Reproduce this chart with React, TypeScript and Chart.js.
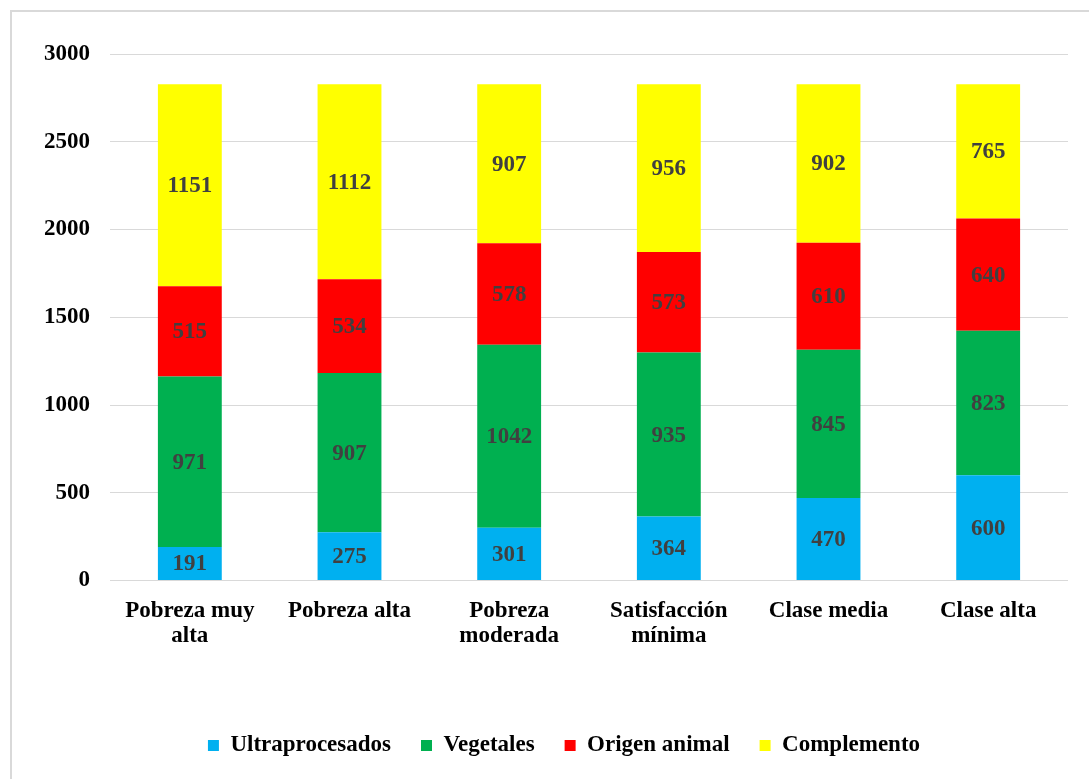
import React, { useEffect, useRef } from "react";
import { Chart, registerables } from "chart.js";

Chart.register(...registerables);

const categories: string[][] = [
  ["Pobreza muy", "alta"],
  ["Pobreza alta"],
  ["Pobreza", "moderada"],
  ["Satisfacción", "mínima"],
  ["Clase media"],
  ["Clase alta"],
];

const ultraprocesados = [191, 275, 301, 364, 470, 600];
const vegetales = [971, 907, 1042, 935, 845, 823];
const origenAnimal = [515, 534, 578, 573, 610, 640];
const complemento = [1151, 1112, 907, 956, 902, 765];

const seriesNames = ["Ultraprocesados", "Vegetales", "Origen animal", "Complemento"];
const seriesColors = ["#00B0F0", "#00B050", "#FF0000", "#FFFF00"];

const FONT = "'Liberation Serif', 'Times New Roman', serif";

const dataLabelPlugin = {
  id: "dataLabels",
  afterDatasetsDraw(chart: any) {
    const ctx = chart.ctx;
    ctx.save();
    ctx.font = `bold 23px ${FONT}`;
    ctx.fillStyle = "#404040";
    ctx.textAlign = "center";
    ctx.textBaseline = "middle";
    chart.data.datasets.forEach((ds: any, i: number) => {
      const meta = chart.getDatasetMeta(i);
      meta.data.forEach((el: any, j: number) => {
        const v = ds.data[j];
        const y = (el.y + el.base) / 2;
        ctx.fillText(String(v), el.x, y + 1);
      });
    });
    ctx.restore();
  },
};

const legendShiftPlugin = {
  id: "legendShift",
  afterLayout(chart: any) {
    if (chart.legend) {
      chart.legend.left = 60;
    }
  },
};

export default function App() {
  const ref = useRef<HTMLCanvasElement>(null);
  useEffect(() => {
    if (!ref.current) return;
    const all = [ultraprocesados, vegetales, origenAnimal, complemento];
    const chart = new Chart(ref.current, {
      type: "bar",
      data: {
        labels: categories,
        datasets: all.map((d, i) => ({
          label: seriesNames[i],
          data: d,
          backgroundColor: seriesColors[i],
          borderWidth: 0,
          categoryPercentage: 1,
          barPercentage: 0.4,
        })),
      },
      options: {
        responsive: false,
        animation: false,
        layout: { padding: { left: 0, right: 21, top: 54, bottom: 12 } },
        plugins: {
          tooltip: { enabled: false },
          legend: {
            position: "bottom",
            labels: {
              boxWidth: 11,
              boxHeight: 11,
              padding: 30,
              color: "#000",
              font: { family: FONT, size: 23, weight: "bold" },
            },
          },
        },
        scales: {
          x: {
            stacked: true,
            grid: { display: false, drawTicks: false },
            border: { display: false },
            ticks: {
              color: "#000",
              autoSkip: false,
              maxRotation: 0,
              padding: 18,
              font: { family: FONT, size: 23, weight: "bold", lineHeight: 1.1 },
            },
            afterFit(scale: any) {
              scale.height = 123.5;
            },
          },
          y: {
            stacked: true,
            min: 0,
            max: 3000,
            ticks: {
              stepSize: 500,
              color: "#000",
              padding: 20,
              font: { family: FONT, size: 23, weight: "bold" },
              callback: (v: any) => String(v),
            },
            grid: { color: "#d9d9d9", lineWidth: 1, drawTicks: false },
            border: { display: false },
            afterFit(scale: any) {
              scale.width = 110;
            },
          },
        },
      },
      plugins: [dataLabelPlugin, legendShiftPlugin],
    });
    return () => chart.destroy();
  }, []);

  return (
    <div
      style={{
        position: "fixed",
        left: 0,
        top: 0,
        width: 1089,
        height: 779,
        background: "#fff",
        overflow: "hidden",
      }}
    >
      <canvas
        ref={ref}
        width={1089}
        height={779}
        style={{ position: "absolute", left: 0, top: 0, width: 1089, height: 779 }}
      />
      <div
        style={{
          position: "absolute",
          left: 10,
          top: 10,
          width: 1100,
          height: 800,
          borderLeft: "2px solid #d9d9d9",
          borderTop: "2px solid #d9d9d9",
          pointerEvents: "none",
        }}
      />
    </div>
  );
}
